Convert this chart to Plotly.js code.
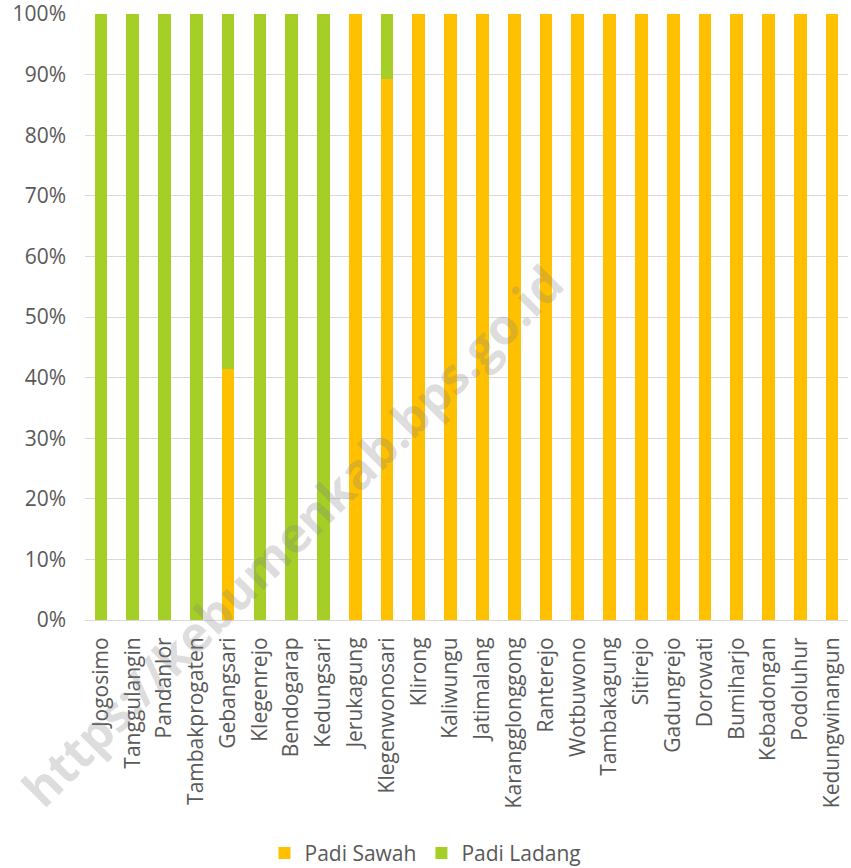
<!DOCTYPE html>
<html><head><meta charset="utf-8">
<script src="https://cdn.plot.ly/plotly-3.0.1.min.js"></script>
<style>html,body{margin:0;padding:0;background:#fff}#chart{width:851px;height:868px}</style>
</head><body><div id="chart"></div>
<script>
var categories = ["Jogosimo","Tanggulangin","Pandanlor","Tambakprogaten","Gebangsari","Klegenrejo","Bendogarap","Kedungsari","Jerukagung","Klegenwonosari","Klirong","Kaliwungu","Jatimalang","Karangglonggong","Ranterejo","Wotbuwono","Tambakagung","Sitirejo","Gadungrejo","Dorowati","Bumiharjo","Kebadongan","Podoluhur","Kedungwinangun"];
var padiSawah = [0,0,0,0,0.415,0,0,0,1,0.893,1,1,1,1,1,1,1,1,1,1,1,1,1,1];
var padiLadang = [1,1,1,1,0.585,1,1,1,0,0.107,0,0,0,0,0,0,0,0,0,0,0,0,0,0];
var yTicks = [0,0.1,0.2,0.3,0.4,0.5,0.6,0.7,0.8,0.9,1];
var yTickLabels = ["0%","10%","20%","30%","40%","50%","60%","70%","80%","90%","100%"];
var watermark = "https://kebumenkab.bps.go.id";

var font = "Open Sans, Lato, sans-serif";
var data = [
  {type:"bar", name:"Padi Sawah", x:categories, y:padiSawah, marker:{color:"#FFC000"}},
  {type:"bar", name:"Padi Ladang", x:categories, y:padiLadang, marker:{color:"#A5CE27"}}
];
var layout = {
  width:851, height:868,
  margin:{l:85, r:3, t:14, b:248},
  barmode:"stack", bargap:0.6,
  paper_bgcolor:"#fff", plot_bgcolor:"#fff",
  font:{family:font, color:"#595959", size:16},
  xaxis:{tickangle:-90, tickfont:{size:21, color:"#595959"}, showline:true, linecolor:"#d9d9d9", linewidth:1, ticks:"", ticklabelstandoff:8, automargin:false, fixedrange:true},
  yaxis:{range:[0,1], tickvals:yTicks, ticktext:yTickLabels, gridcolor:"#d9d9d9", gridwidth:1, zeroline:false, tickfont:{size:21, color:"#595959"}, ticks:"", ticklabelstandoff:18, ticklabeloverflow:"allow", automargin:false, fixedrange:true},
  showlegend:true,
  legend:{orientation:"h", x:0.5, xref:"container", xanchor:"center", y:0.017, yref:"container", yanchor:"middle", font:{size:21, color:"#595959"}, traceorder:"normal"},
  annotations:[{text:"<b>"+watermark+"</b>", xref:"paper", yref:"paper", x:0.271, y:0.14, xanchor:"center", yanchor:"middle", textangle:-45, showarrow:false, font:{size:49, color:"rgba(128,128,128,0.27)", family:font}}]
};
Plotly.newPlot("chart", data, layout, {displayModeBar:false, staticPlot:true});
</script></body></html>
